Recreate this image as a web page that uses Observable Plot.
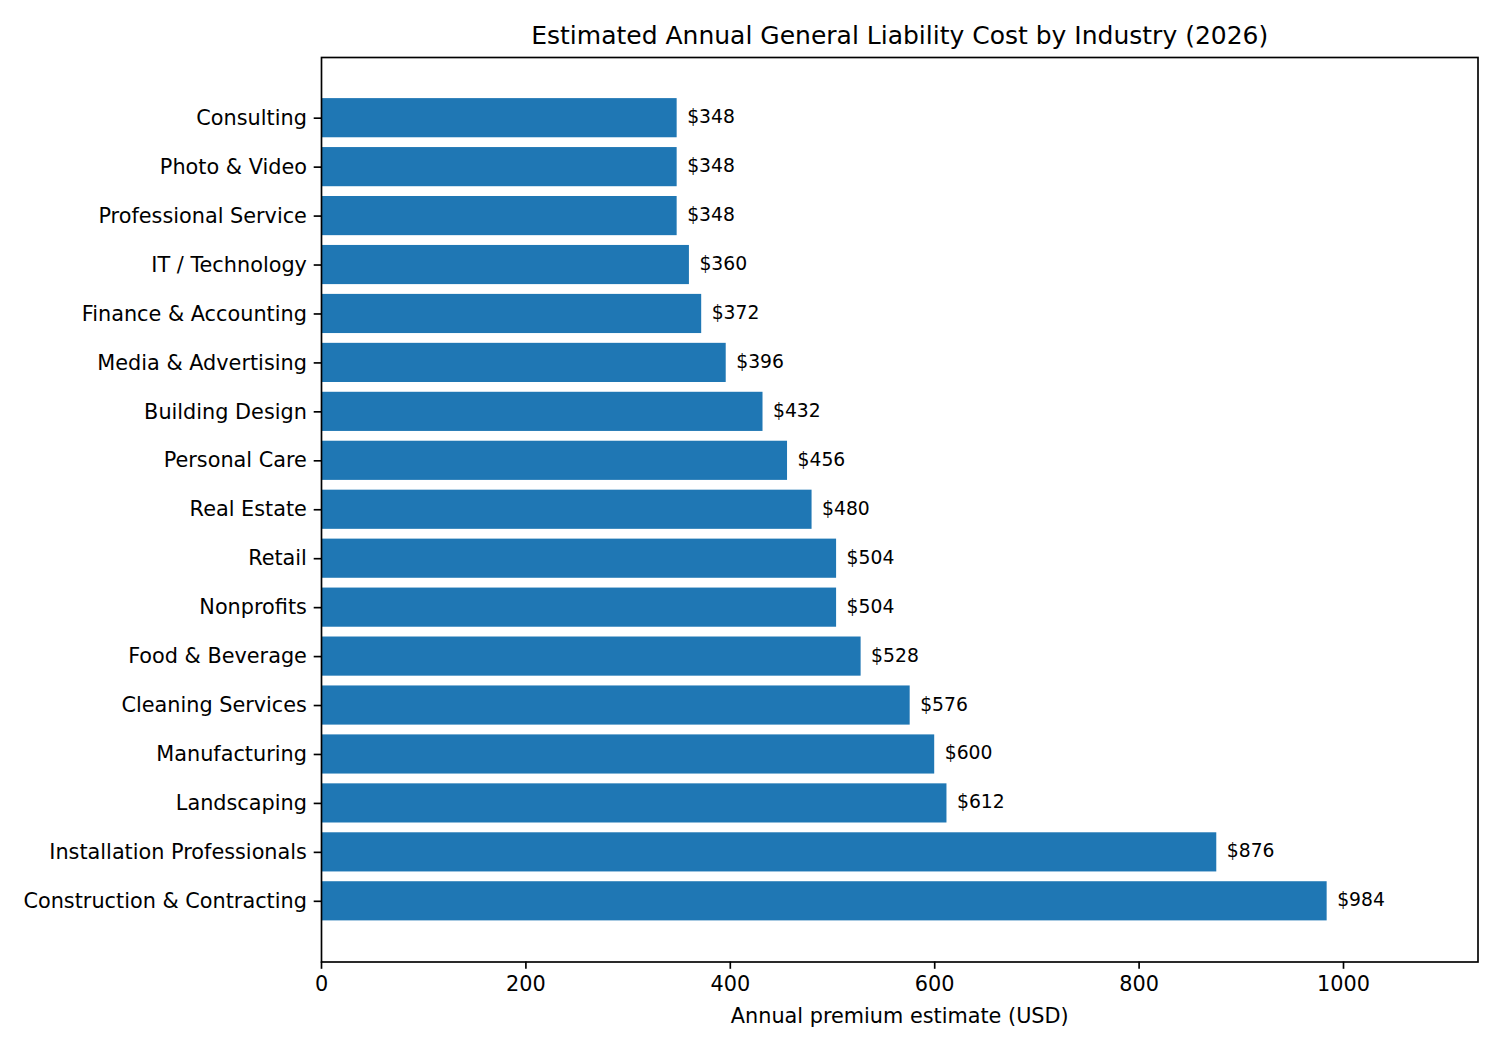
<!DOCTYPE html>
<html>
<head>
<meta charset="utf-8">
<script src="https://cdn.jsdelivr.net/npm/d3@7"></script>
<script src="https://cdn.jsdelivr.net/npm/@observablehq/plot@0.6"></script>
<style>
  html, body { margin: 0; padding: 0; background: #fff; }
  #chart svg { display: block; }
</style>
</head>
<body>
<div id="chart"></div>
<script>
const industries = [
  "Consulting", "Photo & Video", "Professional Service", "IT / Technology",
  "Finance & Accounting", "Media & Advertising", "Building Design", "Personal Care",
  "Real Estate", "Retail", "Nonprofits", "Food & Beverage", "Cleaning Services",
  "Manufacturing", "Landscaping", "Installation Professionals", "Construction & Contracting"
];
const premiums = [348, 348, 348, 360, 372, 396, 432, 456, 480, 504, 504, 528, 576, 600, 612, 876, 984];
const xTicks = [0, 200, 400, 600, 800, 1000];
const titleText = "Estimated Annual General Liability Cost by Industry (2026)";
const xLabel = "Annual premium estimate (USD)";

const data = industries.map((name, i) => ({name, value: premiums[i]}));
const font = "'DejaVu Sans', sans-serif";
const xMax = d3.max(premiums) * 1.15;

const chart = Plot.plot({
  width: 1500,
  height: 1050,
  marginLeft: 321,
  marginRight: 22.5,
  marginTop: 57,
  marginBottom: 88.5,
  style: {fontFamily: font, color: "#000", background: "#fff"},
  x: {domain: [0, xMax]},
  y: {domain: industries, paddingInner: 0.2, paddingOuter: 0.84, round: false},
  marks: [
    Plot.barX(data, {x: "value", y: "name", fill: "#1f77b4"}),
    Plot.text(data, {
      x: "value", y: "name", text: d => "$" + d.value,
      textAnchor: "start", dx: 10, dy: -1, fontSize: 18.75, fill: "#000"
    }),
    Plot.frame({stroke: "#000", strokeWidth: 1.67}),
    Plot.axisY({
      tickSize: 7.3, tickPadding: 7.3, fontSize: 20.8, strokeWidth: 1.67,
      label: null, fill: "#000"
    }),
    Plot.axisX({
      ticks: xTicks, tickFormat: d => String(d), tickSize: 7.3, tickPadding: 7.3,
      fontSize: 20.8, strokeWidth: 1.67, label: null, fill: "#000"
    }),
    Plot.text([titleText], {
      frameAnchor: "top", dy: -22, fontSize: 25, fill: "#000", lineAnchor: "middle"
    }),
    Plot.text([xLabel], {
      frameAnchor: "bottom", dy: 54, fontSize: 20.8, fill: "#000", lineAnchor: "middle"
    })
  ]
});
document.getElementById("chart").appendChild(chart);
</script>
</body>
</html>
